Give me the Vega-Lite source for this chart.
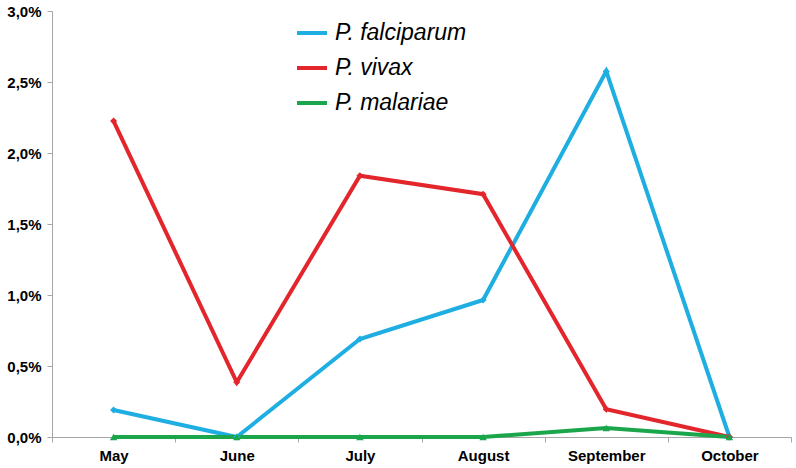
{
  "$schema": "https://vega.github.io/schema/vega-lite/v6.json",
  "autosize": "none",
  "width": 739,
  "height": 426,
  "padding": {"left": 52, "top": 11, "right": 5, "bottom": 31},
  "background": "white",
  "config": {"view": {"stroke": null}, "font": "Liberation Sans"},
  "data": {"values": [
    {"month": "May", "species": "P. falciparum", "pct": 0.19},
    {"month": "June", "species": "P. falciparum", "pct": 0.0},
    {"month": "July", "species": "P. falciparum", "pct": 0.69},
    {"month": "August", "species": "P. falciparum", "pct": 0.965},
    {"month": "September", "species": "P. falciparum", "pct": 2.575},
    {"month": "October", "species": "P. falciparum", "pct": 0.0},
    {"month": "May", "species": "P. vivax", "pct": 2.225},
    {"month": "June", "species": "P. vivax", "pct": 0.385},
    {"month": "July", "species": "P. vivax", "pct": 1.84},
    {"month": "August", "species": "P. vivax", "pct": 1.71},
    {"month": "September", "species": "P. vivax", "pct": 0.195},
    {"month": "October", "species": "P. vivax", "pct": 0.0},
    {"month": "May", "species": "P. malariae", "pct": 0.0},
    {"month": "June", "species": "P. malariae", "pct": 0.0},
    {"month": "July", "species": "P. malariae", "pct": 0.0},
    {"month": "August", "species": "P. malariae", "pct": 0.0},
    {"month": "September", "species": "P. malariae", "pct": 0.063},
    {"month": "October", "species": "P. malariae", "pct": 0.0}
  ]},
  "encoding": {
    "x": {
      "field": "month", "type": "nominal",
      "sort": ["May", "June", "July", "August", "September", "October"],
      "scale": {"type": "band", "paddingInner": 0, "paddingOuter": 0},
      "axis": {
        "title": null, "labelAngle": 0, "domainColor": "#a6a6a6", "tickColor": "#a6a6a6",
        "tickBand": "extent", "tickSize": 5, "labelFontSize": 15, "labelFontWeight": "bold",
        "labelColor": "black", "labelPadding": 6, "grid": false
      }
    },
    "y": {
      "field": "pct", "type": "quantitative",
      "scale": {"domain": [0, 3], "nice": false},
      "axis": {
        "title": null, "values": [0, 0.5, 1, 1.5, 2, 2.5, 3], "grid": false,
        "domainColor": "#a6a6a6", "tickColor": "#a6a6a6", "tickSize": 5,
        "labelFontSize": 15, "labelFontWeight": "bold", "labelColor": "black", "labelPadding": 6,
        "labelExpr": "replace(format(datum.value, '.1f'), '.', ',') + '%'"
      }
    },
    "color": {
      "field": "species", "type": "nominal",
      "sort": ["P. falciparum", "P. vivax", "P. malariae"],
      "scale": {"domain": ["P. falciparum", "P. vivax", "P. malariae"], "range": ["#1eaee2", "#e3252c", "#1ba64b"]},
      "legend": {
        "title": null, "orient": "none", "legendX": 243, "legendY": 5,
        "symbolType": "stroke", "symbolStrokeWidth": 4, "symbolSize": 900,
        "labelFontSize": 23, "labelFontStyle": "italic", "labelColor": "black",
        "rowPadding": 6, "labelOffset": 6, "labelLimit": 300
      }
    }
  },
  "layer": [
    {"mark": {"type": "line", "strokeWidth": 4}},
    {
      "transform": [{"filter": "datum.species !== 'P. malariae'"}],
      "mark": {"type": "point", "filled": true, "opacity": 1, "size": 50, "shape": "diamond"}
    },
    {
      "transform": [{"filter": "datum.species === 'P. malariae'"}],
      "mark": {"type": "point", "filled": true, "opacity": 1, "size": 55, "shape": "triangle-up"}
    }
  ]
}
